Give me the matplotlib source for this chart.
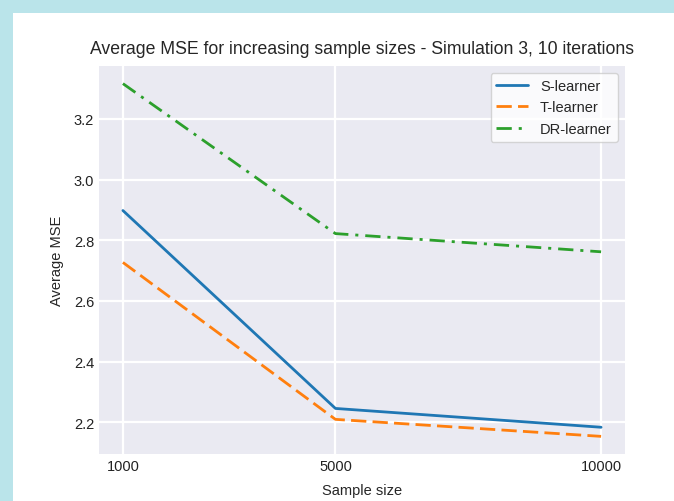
import matplotlib
matplotlib.use('Agg')
import matplotlib.pyplot as plt

sample_sizes = [1000, 5000, 10000]
s_learner = [2.898, 2.246, 2.184]
t_learner = [2.727, 2.210, 2.154]
dr_learner = [3.316, 2.822, 2.762]


def plot_mse():
    plt.style.use('seaborn-v0_8-darkgrid')
    plt.rcParams['font.family'] = ['Liberation Sans', 'DejaVu Sans']
    plt.rcParams['lines.scale_dashes'] = False

    fig = plt.figure(figsize=(6.74, 5.02), dpi=100)
    fig.patch.set_facecolor('#bae4ea')
    # white page inside the cyan frame
    page = fig.add_axes([13 / 674, 0, 1 - 13 / 674, 1 - 14 / 502], zorder=0)
    page.axis('off')
    page.add_patch(plt.Rectangle((0, 0), 1, 1, transform=page.transAxes, facecolor='white', edgecolor='none'))

    ax = fig.add_axes([99 / 674, 1 - 455 / 502, 526 / 674, 388 / 502], zorder=1)

    ax.plot(sample_sizes, s_learner, label='S-learner', color='#1f77b4', linestyle='-', linewidth=2)
    ax.plot(sample_sizes, t_learner, label='T-learner', color='#ff7f0e', linewidth=2,
            dashes=(11, 4.5))
    ax.plot(sample_sizes, dr_learner, label='DR-learner', color='#2ca02c', linewidth=2,
            dashes=(11, 5, 2.2, 5))

    ax.set_xticks(sample_sizes)
    ax.set_xticklabels([str(s) for s in sample_sizes])
    ax.set_yticks([2.2, 2.4, 2.6, 2.8, 3.0, 3.2])
    ax.grid(True, color='white', linewidth=1.6)
    ax.tick_params(labelsize=10.5, colors='#222222')
    ax.set_xlabel('Sample size', fontsize=10.5, labelpad=7)
    ax.set_ylabel('Average MSE', fontsize=10.5, labelpad=7)
    ax.set_title('Average MSE for increasing sample sizes - Simulation 3, 10 iterations',
                 fontsize=12.7, pad=9)
    ax.legend(loc='upper right', frameon=True, facecolor='white', edgecolor='0.8', framealpha=0.8,
              fontsize=10.5, handlelength=2.2)

    fig.savefig('out.png', dpi=100, facecolor=fig.get_facecolor())


if __name__ == '__main__':
    plot_mse()
